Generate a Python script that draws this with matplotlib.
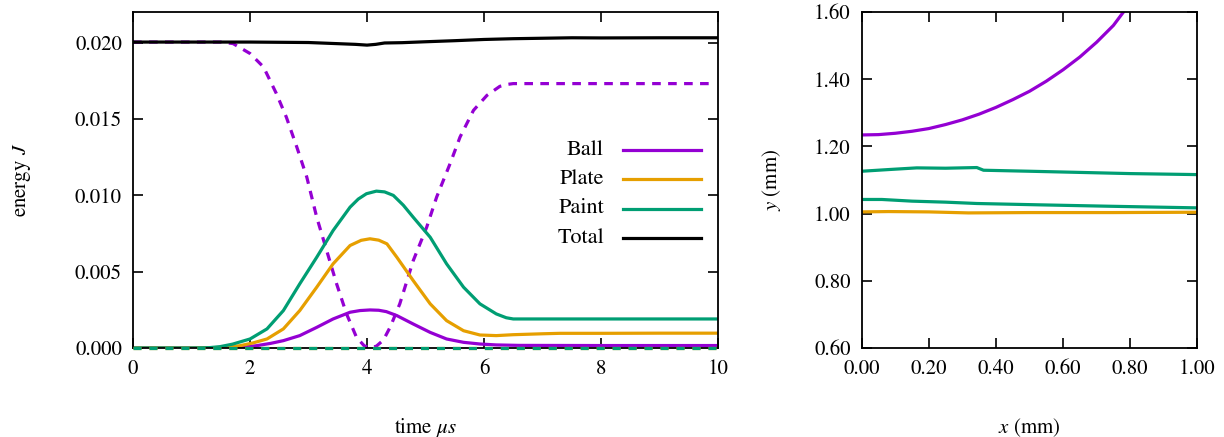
import matplotlib
matplotlib.use("Agg")
import matplotlib.pyplot as plt
from matplotlib.ticker import FormatStrFormatter
import numpy as np

plt.rcParams["font.family"] = ["STIXGeneral", "DejaVu Serif"]
plt.rcParams["mathtext.fontset"] = "stix"
plt.rcParams["font.size"] = 15

PURPLE = "#9400D3"
ORANGE = "#E69F00"
GREEN = "#009E73"

# energy history (J) against time (us)
t_total = [0.0, 1.0, 2.0, 3.0, 3.4, 3.8, 4.0, 4.15, 4.3, 4.6, 5.0, 5.5, 6.0, 6.5, 7.0, 7.5, 8.0, 9.0, 10.0]
e_total = [0.02003, 0.02003, 0.02003, 0.02000, 0.01994, 0.01988, 0.01983, 0.01988, 0.01997, 0.01999,
           0.02005, 0.02012, 0.02020, 0.02025, 0.02028, 0.02031, 0.02030, 0.02031, 0.02031]

t_kin = [0.0, 1.0, 1.5, 1.71, 2.0, 2.23, 2.45, 2.62, 2.80, 2.97, 3.14, 3.31, 3.48, 3.65, 3.82, 3.95,
         4.05, 4.16, 4.28, 4.40, 4.56, 4.79, 5.02, 5.19, 5.42, 5.59, 5.82, 6.05, 6.27, 6.40, 6.50,
         7.5, 8.5, 9.86]
e_kin = [0.02003, 0.02003, 0.02003, 0.01993, 0.01928, 0.0184, 0.01666, 0.01512, 0.01315, 0.01119,
         0.00856, 0.00638, 0.0042, 0.00223, 0.0007, 0.00015, 0.0, 0.00012, 0.00052, 0.0014, 0.00289,
         0.00572, 0.00791, 0.00988, 0.01207, 0.01381, 0.01556, 0.01654, 0.01713, 0.01726, 0.01731,
         0.01731, 0.01731, 0.01731]

t_paint = [0.0, 1.0, 1.3, 1.49, 1.7, 2.0, 2.29, 2.57, 2.85, 3.14, 3.42, 3.71, 3.85, 3.99, 4.16,
           4.30, 4.45, 4.62, 4.79, 5.08, 5.36, 5.65, 5.93, 6.21, 6.38, 6.50, 7.0, 8.0, 9.0, 10.0]
e_paint = [0.0, 0.0, 0.00002, 0.00009, 0.00025, 0.00059, 0.00125, 0.00245, 0.0042, 0.00594, 0.00769,
           0.00922, 0.00975, 0.0101, 0.01027, 0.01022, 0.00999, 0.00935, 0.00856, 0.00725, 0.00551,
           0.00398, 0.00289, 0.00223, 0.00198, 0.0019, 0.0019, 0.0019, 0.0019, 0.0019]

t_plate = [0.0, 1.0, 1.5, 1.83, 2.05, 2.29, 2.57, 2.85, 3.14, 3.42, 3.71, 3.90, 4.05, 4.20, 4.34,
           4.51, 4.79, 5.08, 5.36, 5.65, 5.93, 6.21, 6.50, 7.0, 7.3, 8.0, 9.0, 10.0]
e_plate = [0.0, 0.0, 0.00002, 0.00015, 0.00033, 0.00059, 0.00125, 0.00245, 0.00398, 0.00551,
           0.00671, 0.00705, 0.00715, 0.00706, 0.00682, 0.00594, 0.00441, 0.00289, 0.00179, 0.00113,
           0.00085, 0.00081, 0.00087, 0.00093, 0.00096, 0.00096, 0.00097, 0.00097]

t_ball = [0.0, 1.0, 1.8, 2.11, 2.35, 2.57, 2.85, 3.14, 3.42, 3.71, 3.88, 4.05, 4.20, 4.33, 4.51,
          4.79, 5.08, 5.36, 5.65, 5.93, 6.21, 6.6, 8.0, 10.0]
e_ball = [0.0, 0.0, 0.00003, 0.00015, 0.0003, 0.00048, 0.00081, 0.00135, 0.0019, 0.00234, 0.00245,
          0.00249, 0.00247, 0.00238, 0.00212, 0.00157, 0.00102, 0.00059, 0.00037, 0.00026, 0.0002,
          0.00017, 0.00016, 0.00016]

t_zero = [0.0, 10.0]
e_zero = [0.0, 0.0]

# surface profiles (mm)
x_ball = [0.0, 0.05, 0.1, 0.15, 0.2, 0.25, 0.3, 0.35, 0.4, 0.45, 0.5, 0.55, 0.6, 0.65, 0.7,
          0.75, 0.78, 0.8]
y_ball = [1.234, 1.235, 1.239, 1.245, 1.253, 1.265, 1.279, 1.296, 1.316, 1.339, 1.364, 1.394,
          1.428, 1.466, 1.51, 1.56, 1.60, 1.63]

x_paint_top = [0.0, 0.08, 0.164, 0.25, 0.343, 0.363, 0.5, 0.63, 0.8, 1.0]
y_paint_top = [1.126, 1.131, 1.136, 1.135, 1.137, 1.129, 1.126, 1.123, 1.119, 1.116]

x_paint_bot = [0.0, 0.06, 0.15, 0.25, 0.343, 0.53, 0.73, 1.0]
y_paint_bot = [1.042, 1.042, 1.037, 1.034, 1.030, 1.026, 1.022, 1.017]

x_plate = [0.0, 0.08, 0.2, 0.318, 0.5, 0.75, 1.0]
y_plate = [1.005, 1.006, 1.005, 1.002, 1.003, 1.003, 1.004]


def style_axes(ax):
    ax.tick_params(direction="in", length=7, width=1.2, top=True, right=True, pad=8)
    for sp in ax.spines.values():
        sp.set_linewidth(1.3)


fig = plt.figure(figsize=(12.24, 4.37), dpi=100)
ax1 = fig.add_axes([0.1087, 0.2037, 0.4779, 0.7689])
ax2 = fig.add_axes([0.704, 0.2037, 0.2742, 0.7689])

lw = 2.3
ax1.plot(t_zero, e_zero, color=ORANGE, lw=lw, dashes=(2.5, 2.5), clip_on=False, zorder=3)
ax1.plot(t_zero, e_zero, color=GREEN, lw=lw, dashes=(2.5, 2.5), clip_on=False, zorder=3.1)
ax1.plot(t_kin, e_kin, color=PURPLE, lw=lw, dashes=(2.7, 2.3))
ax1.plot(t_ball, e_ball, color=PURPLE, lw=lw)
ax1.plot(t_plate, e_plate, color=ORANGE, lw=lw)
ax1.plot(t_paint, e_paint, color=GREEN, lw=lw)
ax1.plot(t_total, e_total, color="black", lw=lw)

# key: right-aligned labels followed by line samples
key_labels = ["Ball", "Plate", "Paint", "Total"]
key_colors = [PURPLE, ORANGE, GREEN, "black"]
key_rows = [0.590, 0.502, 0.415, 0.328]
for label, color, yk in zip(key_labels, key_colors, key_rows):
    ax1.text(0.805, yk, label, ha="right", va="center", fontsize=16, transform=ax1.transAxes)
    ax1.plot([0.837, 0.971], [yk, yk], color=color, lw=lw, transform=ax1.transAxes)

ax1.set_xlim(0, 10)
ax1.set_ylim(0, 0.022)
ax1.set_xticks([0, 2, 4, 6, 8, 10])
ax1.set_yticks([0.0, 0.005, 0.010, 0.015, 0.020])
ax1.yaxis.set_major_formatter(FormatStrFormatter("%.3f"))
ax1.set_xlabel(r"time $\mu s$", labelpad=27)
ax1.set_ylabel(r"energy $J$", labelpad=30)
style_axes(ax1)

ax2.plot(x_ball, y_ball, color=PURPLE, lw=lw)
ax2.plot(x_paint_top, y_paint_top, color=GREEN, lw=lw)
ax2.plot(x_paint_bot, y_paint_bot, color=GREEN, lw=lw)
ax2.plot(x_plate, y_plate, color=ORANGE, lw=lw)
ax2.set_xlim(0, 1.0)
ax2.set_ylim(0.6, 1.6)
ax2.set_xticks(np.arange(0, 1.01, 0.2))
ax2.set_yticks(np.arange(0.6, 1.61, 0.2))
ax2.xaxis.set_major_formatter(FormatStrFormatter("%.2f"))
ax2.yaxis.set_major_formatter(FormatStrFormatter("%.2f"))
ax2.set_xlabel(r"$x$ (mm)", labelpad=27)
ax2.set_ylabel(r"$y$ (mm)", labelpad=22)
style_axes(ax2)

fig.savefig("out.png", dpi=100)
